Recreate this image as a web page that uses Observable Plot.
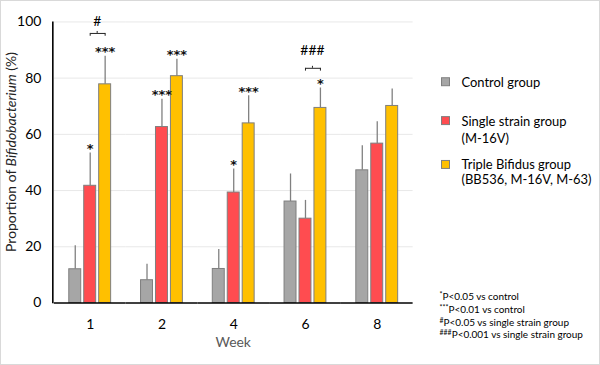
<!DOCTYPE html>
<html><head><meta charset="utf-8">
<script src="https://cdn.jsdelivr.net/npm/d3@7"></script>
<script src="https://cdn.jsdelivr.net/npm/@observablehq/plot@0.6"></script>
<style>
html,body{margin:0;padding:0;background:#fff;}
#chart{width:600px;height:365px;box-sizing:border-box;border:1px solid #d9d9d9;overflow:hidden;position:relative;}
#chart svg{position:absolute;left:-1px;top:-1px;}
</style></head><body><div id="chart"></div>
<script>
const weeks = ["1", "2", "4", "6", "8"];
const groups = ["Control group", "Single strain group", "Triple Bifidus group"];
const groupSubtitles = ["", "(M-16V)", "(BB536, M-16V, M-63)"];
const colors = ["#a6a6a6", "#ff4c50", "#ffc000"];

const controlMean = [12.0, 8.1, 12.1, 36.1, 47.2];
const controlSD   = [8.4, 5.7, 6.9, 9.8, 8.7];
const singleMean  = [41.7, 62.6, 39.3, 30.0, 56.7];
const singleSD    = [11.7, 9.9, 8.4, 6.5, 7.8];
const tripleMean  = [77.8, 80.7, 63.9, 69.4, 70.1];
const tripleSD    = [10.0, 6.0, 9.8, 7.1, 6.0];

const starWeeks  = ["1", "1", "2", "2", "4", "4", "6"];
const starGroups = [1, 2, 1, 2, 1, 2, 2];
const starLabels = ["*", "***", "***", "***", "*", "***", "*"];

const hashWeeks   = ["1", "6"];
const hashLabels  = ["#", "###"];
const bracketY    = [95.9, 83.5];
const hashLabelY  = [98.5, 88.3];

const yTicks = [0, 20, 40, 60, 80, 100];
const footnoteMarks = ["*", "***", "#", "###"];
const footnoteTexts = ["P<0.05 vs control", "P<0.01 vs control", "P<0.05 vs single strain group", "P<0.001 vs single strain group"];

const means = [controlMean, singleMean, tripleMean];
const sds = [controlSD, singleSD, tripleSD];
const rows = [];
weeks.forEach((w, i) => groups.forEach((g, j) => rows.push({week: w, group: g, mean: means[j][i], top: means[j][i] + sds[j][i]})));
const stars = starWeeks.map((w, k) => {
  const i = weeks.indexOf(w), j = starGroups[k];
  return {week: w, group: groups[j], top: means[j][i] + sds[j][i], label: starLabels[k]};
});
const hashes = hashWeeks.map((w, k) => ({week: w, g1: groups[1], g2: groups[2], y: bracketY[k], ly: hashLabelY[k], label: hashLabels[k]}));

const font = "Lato, 'Open Sans', sans-serif";
const plot = Plot.plot({
  width: 600, height: 365,
  marginLeft: 53, marginRight: 185, marginTop: 21.5, marginBottom: 61.5,
  style: {fontFamily: font, fontSize: "14px", color: "#000", background: "transparent"},
  fx: {domain: weeks, paddingInner: 0, paddingOuter: 0, label: null},
  x: {domain: groups, paddingInner: 0.1875, paddingOuter: 0.856, axis: null},
  y: {domain: [0, 100], label: null},
  color: {domain: groups, range: colors},
  marks: [
    Plot.gridY(yTicks.slice(1), {stroke: "#e8e8e8", strokeOpacity: 1, strokeWidth: 1}),
    Plot.axisY(yTicks, {tickSize: 0, tickPadding: 13, label: null, fontSize: 14}),
    Plot.axisFx({anchor: "bottom", tickSize: 0, tickPadding: 16, label: null, fontSize: 14}),
    Plot.barY(rows, {fx: "week", x: "group", y1: 0, y2: "mean", fill: "group", stroke: "#7f7f7f", strokeWidth: 1}),
    Plot.ruleX(rows, {fx: "week", x: "group", y1: "mean", y2: "top", stroke: "#808080", strokeWidth: 1.3}),
    Plot.ruleY([0], {stroke: "#000", strokeWidth: 1.6}),
    Plot.text(stars, {fx: "week", x: "group", y: "top", text: "label", fontFamily: "'DejaVu Sans', sans-serif", fontSize: 13, fontWeight: "bold", lineAnchor: "bottom", dy: 0, fill: "#111"}),
    Plot.link(hashes, {fx: "week", x1: "g1", x2: "g2", y1: "y", y2: "y", stroke: "#222", strokeWidth: 1}),
    Plot.ruleX(hashes, {fx: "week", x: "g1", y1: "y", y2: d => d.y - 1.0, stroke: "#222", strokeWidth: 1}),
    Plot.ruleX(hashes, {fx: "week", x: "g2", y1: "y", y2: d => d.y - 1.0, stroke: "#222", strokeWidth: 1}),
    Plot.ruleX(hashes, {fx: "week", x: "g2", dx: -8, y1: "y", y2: d => d.y + 0.7, stroke: "#222", strokeWidth: 1}),
    Plot.text(hashes, {fx: "week", x: "g2", dx: -8, y: "ly", text: "label", fontSize: 14, lineAnchor: "bottom", fill: "#000"})
  ]
});

const svg = d3.select(plot);
const ys = plot.scale("y");
// y axis line
svg.append("line").attr("x1", 53).attr("x2", 53)
  .attr("y1", ys.apply(0) + 0.8).attr("y2", ys.apply(100))
  .attr("stroke", "#000").attr("stroke-width", 1.6);

// y axis label with italic genus
const yl = svg.append("text")
  .attr("transform", `translate(16,${(ys.apply(0) + ys.apply(100)) / 2 - 10}) rotate(-90)`)
  .attr("text-anchor", "middle").attr("font-family", font).attr("font-size", 14).attr("fill", "#222");
yl.append("tspan").text("Proportion of ");
yl.append("tspan").attr("font-style", "italic").text("Bifidobacterium");
yl.append("tspan").text(" (%)");

// x axis title
svg.append("text").attr("x", 234).attr("y", 348).attr("text-anchor", "middle")
  .attr("font-family", font).attr("font-size", 14).attr("fill", "#595959").text("Week");

// legend
const legendRows = [[87], [126, 143], [170, 185]];
const lg = svg.append("g").attr("font-family", font).attr("font-size", 13).attr("fill", "#000").attr("text-anchor", "start");
groups.forEach((g, i) => {
  const base = legendRows[i][0];
  lg.append("rect").attr("x", 443).attr("y", base - 9).attr("width", 8).attr("height", 8)
    .attr("fill", colors[i]).attr("stroke", "#7f7f7f").attr("stroke-width", 1);
  lg.append("text").attr("x", 463).attr("y", base).text(g);
  if (groupSubtitles[i]) lg.append("text").attr("x", 463).attr("y", legendRows[i][1]).text(groupSubtitles[i]);
});

// footnotes
const fn = svg.append("g").attr("font-family", font).attr("font-size", 10).attr("fill", "#000").attr("text-anchor", "start");
footnoteTexts.forEach((t, i) => {
  const tx = fn.append("text").attr("x", 441).attr("y", 301 + i * 12.8);
  tx.append("tspan").attr("font-size", 7).attr("dy", -3).text(footnoteMarks[i]);
  tx.append("tspan").attr("dy", 3).text(t);
});

document.getElementById("chart").append(plot);
</script>
</body></html>
